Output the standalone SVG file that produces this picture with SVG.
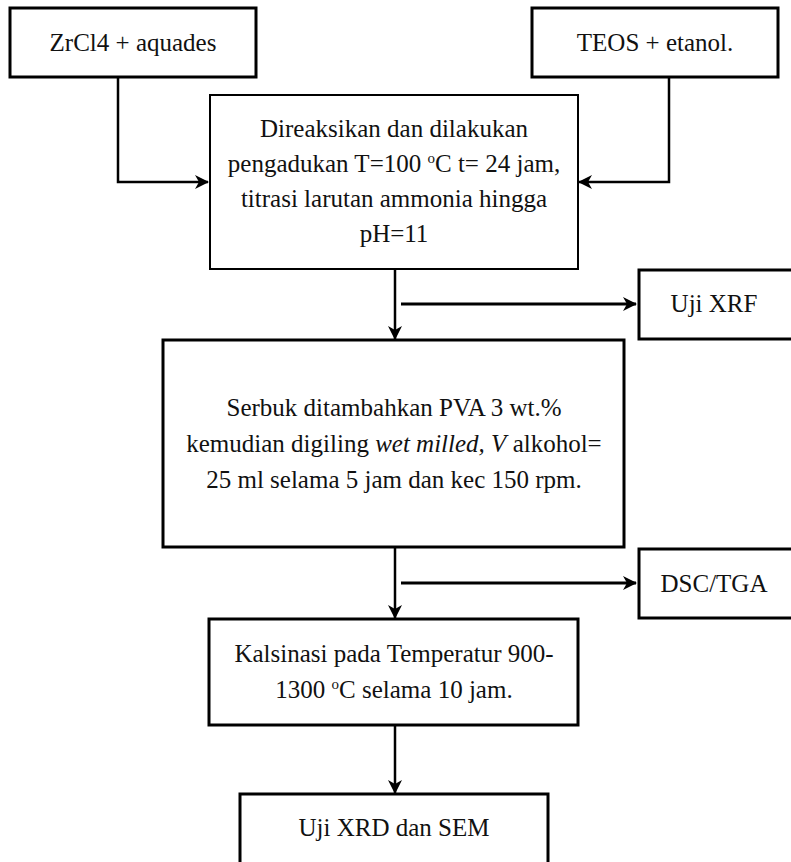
<svg xmlns="http://www.w3.org/2000/svg" width="791" height="862" viewBox="0 0 791 862">
<defs>
<style>
.box{fill:#fff;stroke:#000;stroke-width:3}
.thin{stroke-width:2}
.t{font-family:"Liberation Serif","Times New Roman",serif;font-size:25px;fill:#111;text-anchor:middle}
.c{fill:none;stroke:#000;stroke-width:2.5}
.sup{font-size:15px}
</style>
<marker id="ah" markerUnits="userSpaceOnUse" markerWidth="14" markerHeight="14" viewBox="0 0 14 14" refX="13" refY="7" orient="auto">
<path d="M0,0 L14,7 L0,14 L4,7 Z" fill="#000"/>
</marker>
</defs>
<rect width="791" height="862" fill="#fff"/>
<g id="connectors">
<path class="c" d="M118 77 V182 H208" marker-end="url(#ah)"/>
<path class="c" d="M669 77 V182 H579" marker-end="url(#ah)"/>
<path class="c" d="M395 269 V339" marker-end="url(#ah)"/>
<path class="c" style="stroke-width:3" d="M401 304 H636" marker-end="url(#ah)"/>
<path class="c" d="M395 547 V618" marker-end="url(#ah)"/>
<path class="c" style="stroke-width:3" d="M401 583 H636" marker-end="url(#ah)"/>
<path class="c" d="M395 725 V793" marker-end="url(#ah)"/>
</g>
<g id="n-zrcl4">
<rect class="box" x="10" y="8" width="246" height="69"/>
<text class="t" x="133" y="51">ZrCl4 + aquades</text>
</g>
<g id="n-teos">
<rect class="box" x="532" y="8" width="246" height="69"/>
<text class="t" x="655" y="51">TEOS + etanol.</text>
</g>
<g id="n-direaksikan">
<rect class="box thin" x="210" y="95" width="368" height="174"/>
<text class="t" x="394" y="137">Direaksikan dan dilakukan</text>
<text class="t" x="394" y="172">pengadukan T=100 <tspan class="sup" dy="-9">o</tspan><tspan dy="9">C t= 24 jam,</tspan></text>
<text class="t" x="394" y="207">titrasi larutan ammonia hingga</text>
<text class="t" x="394" y="242">pH=11</text>
</g>
<g id="n-xrf">
<rect class="box" x="639" y="270" width="160" height="69"/>
<text class="t" x="714" y="312">Uji XRF</text>
</g>
<g id="n-serbuk">
<rect class="box" x="163" y="340" width="461" height="207"/>
<text class="t" x="394" y="416">Serbuk ditambahkan PVA 3 wt.%</text>
<text class="t" x="394" y="452">kemudian digiling <tspan font-style="italic">wet milled, V</tspan> alkohol=</text>
<text class="t" x="394" y="488">25 ml selama 5 jam dan kec 150 rpm.</text>
</g>
<g id="n-dsc">
<rect class="box" x="639" y="549" width="160" height="69"/>
<text class="t" x="714" y="592">DSC/TGA</text>
</g>
<g id="n-kalsinasi">
<rect class="box" x="209" y="619" width="369" height="106"/>
<text class="t" x="394" y="662">Kalsinasi pada Temperatur 900-</text>
<text class="t" x="394" y="698">1300 <tspan class="sup" dy="-9">o</tspan><tspan dy="9">C selama 10 jam.</tspan></text>
</g>
<g id="n-xrd">
<rect class="box" x="240" y="794" width="308" height="100"/>
<text class="t" x="394" y="836">Uji XRD dan SEM</text>
</g>
</svg>
